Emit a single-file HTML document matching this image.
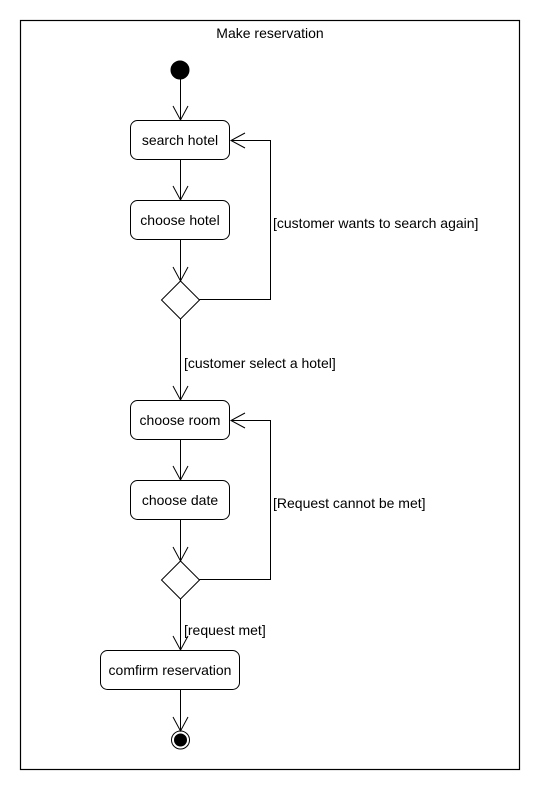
<!DOCTYPE html>
<html><head><style>html,body{margin:0;padding:0;background:#fff}svg{display:block}</style></head>
<body>
<svg width="540" height="790" xmlns="http://www.w3.org/2000/svg" font-family="Liberation Sans, Arial, sans-serif" font-size="14" fill="none" stroke="#000">
<rect x="20.5" y="20.5" width="499" height="749" stroke-width="1.2"/>
<text x="270" y="38" text-anchor="middle" fill="#000" stroke="none">Make reservation</text>
<circle cx="180" cy="70" r="9" fill="#000"/>
<g stroke-width="1">
<line x1="180.5" y1="79" x2="180.5" y2="120"/>
<polyline points="173,106 180.5,120 188,106"/>
<rect x="130.5" y="120.5" width="99" height="39" rx="7"/>
<text x="180" y="145" text-anchor="middle" fill="#000" stroke="none">search hotel</text>
<line x1="180.5" y1="160" x2="180.5" y2="200"/>
<polyline points="173,186 180.5,200 188,186"/>
<rect x="130.5" y="200.5" width="99" height="39" rx="7"/>
<text x="180" y="225" text-anchor="middle" fill="#000" stroke="none">choose hotel</text>
<line x1="180.5" y1="240" x2="180.5" y2="281"/>
<polyline points="173,267 180.5,281 188,267"/>
<polygon points="180.5,281 199.5,300 180.5,319 161.5,300"/>
<polyline points="199.5,299.5 270.5,299.5 270.5,140.5 231,140.5"/>
<polyline points="245,133 231,140.5 245,148"/>
<text x="273" y="228" fill="#000" stroke="none">[customer wants to search again]</text>
<line x1="180.5" y1="319" x2="180.5" y2="400"/>
<polyline points="173,386 180.5,400 188,386"/>
<text x="184" y="368" fill="#000" stroke="none">[customer select a hotel]</text>
<rect x="130.5" y="400.5" width="99" height="39" rx="7"/>
<text x="180" y="425" text-anchor="middle" fill="#000" stroke="none">choose room</text>
<line x1="180.5" y1="440" x2="180.5" y2="480"/>
<polyline points="173,466 180.5,480 188,466"/>
<rect x="130.5" y="480.5" width="99" height="39" rx="7"/>
<text x="180" y="505" text-anchor="middle" fill="#000" stroke="none">choose date</text>
<line x1="180.5" y1="520" x2="180.5" y2="561"/>
<polyline points="173,547 180.5,561 188,547"/>
<polygon points="180.5,561 199.5,580 180.5,599 161.5,580"/>
<polyline points="199.5,579.5 270.5,579.5 270.5,420.5 231,420.5"/>
<polyline points="245,413 231,420.5 245,428"/>
<text x="273" y="508" fill="#000" stroke="none">[Request cannot be met]</text>
<line x1="180.5" y1="599" x2="180.5" y2="650"/>
<polyline points="173,636 180.5,650 188,636"/>
<text x="184" y="635" fill="#000" stroke="none">[request met]</text>
<rect x="100.5" y="650.5" width="139" height="39" rx="7"/>
<text x="170" y="675" text-anchor="middle" fill="#000" stroke="none">comfirm reservation</text>
<line x1="180.5" y1="690" x2="180.5" y2="731"/>
<polyline points="173,717 180.5,731 188,717"/>
<circle cx="180.5" cy="740" r="9"/>
<circle cx="180.5" cy="740" r="6" fill="#000"/>
</g>
</svg>
</body></html>
